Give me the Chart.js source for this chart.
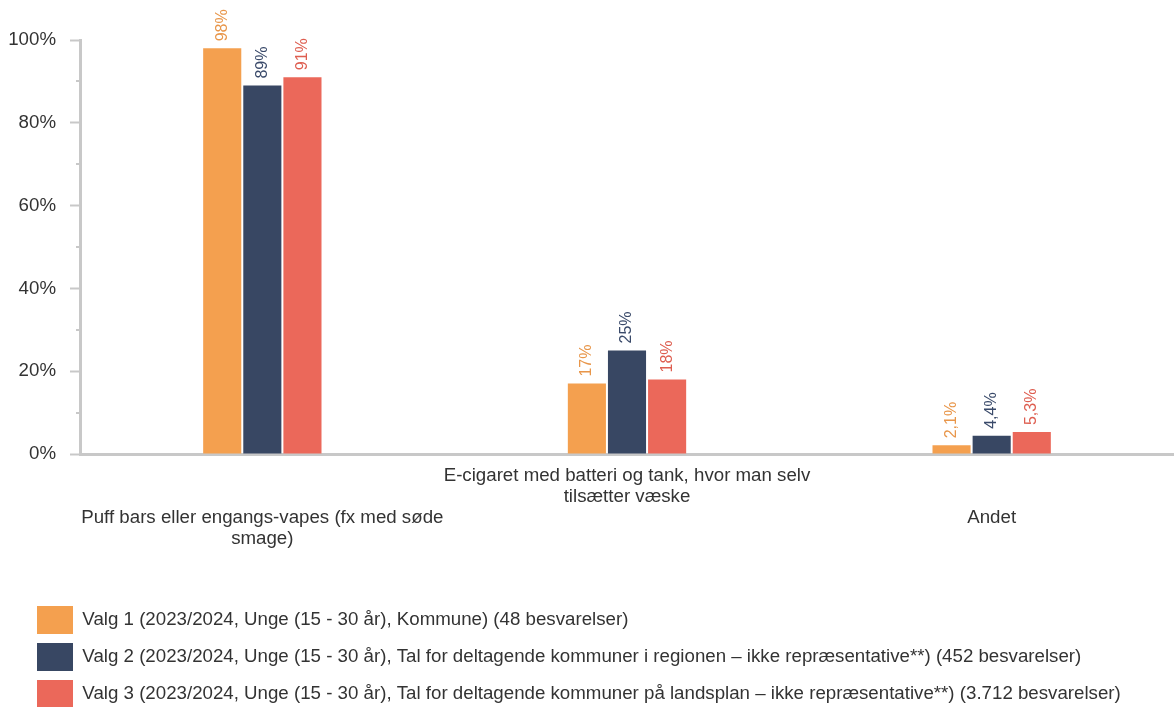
<!DOCTYPE html>
<html>
<head>
<meta charset="utf-8">
<script src="https://cdn.jsdelivr.net/npm/chart.js@4"></script>
<style>
html,body{margin:0;padding:0;background:#fff;}
#wrap{width:1174px;height:707px;position:relative;}
</style>
</head>
<body>
<div id="wrap"><canvas id="c"></canvas></div>
<script>
const categories = [
  ['', '', 'Puff bars eller engangs-vapes (fx med søde', 'smage)'],
  ['E-cigaret med batteri og tank, hvor man selv', 'tilsætter væske'],
  ['', '', 'Andet']
];
const seriesNames = [
  'Valg 1 (2023/2024, Unge (15 - 30 år), Kommune) (48 besvarelser)',
  'Valg 2 (2023/2024, Unge (15 - 30 år), Tal for deltagende kommuner i regionen – ikke repræsentative**) (452 besvarelser)',
  'Valg 3 (2023/2024, Unge (15 - 30 år), Tal for deltagende kommuner på landsplan – ikke repræsentative**) (3.712 besvarelser)'
];
const valg1 = [98, 17, 2.1];
const valg2 = [89, 25, 4.4];
const valg3 = [91, 18, 5.3];
const barColors = ['#F4A04F', '#384763', '#EB685A'];
const labelColors = ['#E8964A', '#3A4A6A', '#DE5E50'];
const yTicks = [0, 20, 40, 60, 80, 100];

const AXIS = '#c8c8c8';
const FONT = "'Liberation Sans', Arial, sans-serif";
const FS = 18.7;

function fmt(v){
  return v >= 10 ? Math.round(v) + '%' : v.toFixed(1).replace('.', ',') + '%';
}

const valueLabels = {
  id: 'valueLabels',
  afterDatasetsDraw(chart){
    const ctx = chart.ctx;
    chart.data.datasets.forEach((ds, di) => {
      const meta = chart.getDatasetMeta(di);
      meta.data.forEach((bar, i) => {
        ctx.save();
        ctx.translate(bar.x, bar.y - 7);
        ctx.rotate(-Math.PI/2);
        ctx.font = '16px ' + FONT;
        ctx.fillStyle = labelColors[di];
        ctx.textAlign = 'left';
        ctx.textBaseline = 'middle';
        ctx.fillText(fmt(ds.data[i]), 0, 0);
        ctx.restore();
      });
    });
  }
};

const minorTicks = {
  id: 'minorTicks',
  afterDraw(chart){
    const y = chart.scales.y;
    const ctx = chart.ctx;
    ctx.save();
    ctx.strokeStyle = AXIS;
    ctx.lineWidth = 2;
    for (let v = 10; v < 100; v += 20){
      const py = Math.round(y.getPixelForValue(v));
      ctx.beginPath();
      ctx.moveTo(y.right - 4, py);
      ctx.lineTo(y.right, py);
      ctx.stroke();
    }
    ctx.restore();
  }
};

const legendShift = {
  id: 'legendShift',
  afterLayout(chart){
    if (chart.legend){ chart.legend.left = 28; chart.legend.top += 11; }
  }
};

new Chart(document.getElementById('c'), {
  type: 'bar',
  data: {
    labels: categories,
    datasets: [valg1, valg2, valg3].map((d, i) => ({
      label: seriesNames[i],
      data: d,
      backgroundColor: barColors[i],
      borderWidth: 0,
      categoryPercentage: 0.33,
      barPercentage: 0.95
    }))
  },
  options: {
    responsive: true,
    maintainAspectRatio: false,
    animation: false,
    layout: { padding: { top: 40, left: 0, right: 0, bottom: 0 } },
    plugins: {
      legend: {
        position: 'bottom',
        align: 'start',
        labels: {
          boxWidth: 36,
          boxHeight: 28,
          padding: 9,
          color: '#333',
          font: { family: FONT, size: FS }
        }
      },
      tooltip: { enabled: false }
    },
    scales: {
      x: {
        afterFit: (s) => { s.height = 132; },
        grid: { display: true, drawOnChartArea: false, drawTicks: false },
        border: { color: AXIS, width: 3 },
        ticks: {
          color: '#333',
          font: { family: FONT, size: FS, lineHeight: 1.13 },
          padding: 11,
          maxRotation: 0,
          minRotation: 0,
          autoSkip: false
        }
      },
      y: {
        min: 0,
        max: 100,
        afterFit: (s) => { s.width = 80; },
        grid: {
          drawOnChartArea: false,
          tickLength: 10,
          tickWidth: 2,
          tickColor: (c) => (c.tick && yTicks.includes(c.tick.value)) ? AXIS : 'rgba(0,0,0,0)'
        },
        border: { color: AXIS, width: 3 },
        ticks: {
          stepSize: 10,
          color: '#333',
          padding: 14,
          font: { family: FONT, size: FS },
          callback: (v) => yTicks.includes(v) ? v + '%' : ''
        }
      }
    }
  },
  plugins: [valueLabels, minorTicks, legendShift]
});
</script>
</body>
</html>
